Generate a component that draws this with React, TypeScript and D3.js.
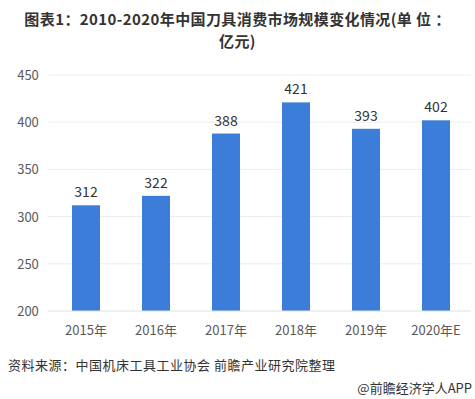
import React from "react";
import * as d3 from "d3";

const categories = ["2015年", "2016年", "2017年", "2018年", "2019年", "2020年E"];
const values = [312, 322, 388, 421, 393, 402];
const yTicks = [200, 250, 300, 350, 400, 450];

const width = 475;
const height = 399;
const font = "'Microsoft YaHei', 'Noto Sans CJK SC', Arial, sans-serif";

const App = () => {
  const xScale = d3
    .scaleBand<string>()
    .domain(categories)
    .range([51, 471])
    .paddingInner(0.6)
    .paddingOuter(0.3);
  const yScale = d3.scaleLinear().domain([200, 450]).range([311, 75]);

  return (
    <svg
      width={width}
      height={height}
      style={{ position: "absolute", left: 0, top: 0, background: "#fff" }}
      fontFamily={font}
    >
      <text x={width / 2} y={25} textAnchor="middle" fontSize={15} letterSpacing={0.4} fontWeight="bold" fill="#333">
        图表1：2010-2020年中国刀具消费市场规模变化情况(单 位 ：
      </text>
      <text x={width / 2} y={47} textAnchor="middle" fontSize={15} letterSpacing={0.4} fontWeight="bold" fill="#333">
        亿元)
      </text>

      {yTicks.map((t) => (
        <g key={t}>
          {t > 200 && (
            <line x1={48} x2={471} y1={yScale(t)} y2={yScale(t)} stroke="#ececec" />
          )}
          <text x={28} y={yScale(t) + 5} textAnchor="middle" fontSize={13} fill="#595959">
            {t}
          </text>
        </g>
      ))}

      {values.map((v, i) => (
        <g key={categories[i]}>
          <rect
            x={xScale(categories[i])}
            y={yScale(v)}
            width={xScale.bandwidth()}
            height={yScale(200) - yScale(v)}
            fill="#3b7dd8"
          />
          <text
            x={(xScale(categories[i]) as number) + xScale.bandwidth() / 2}
            y={yScale(v) - 8}
            textAnchor="middle"
            fontSize={14}
            fill="#333"
          >
            {v}
          </text>
        </g>
      ))}
      <line x1={48} x2={471} y1={yScale(200)} y2={yScale(200)} stroke="#e0e0e0" />

      {categories.map((c) => (
        <text
          key={c}
          x={(xScale(c) as number) + xScale.bandwidth() / 2}
          y={335}
          textAnchor="middle"
          fontSize={13}
          fill="#595959"
        >
          {c}
        </text>
      ))}

      <text x={8} y={370} fontSize={13} letterSpacing={0.5} fill="#333">
        资料来源：中国机床工具工业协会 前瞻产业研究院整理
      </text>
      <text x={472} y={393} textAnchor="end" fontSize={13} fill="#333">
        @前瞻经济学人APP
      </text>
    </svg>
  );
};

export default App;
